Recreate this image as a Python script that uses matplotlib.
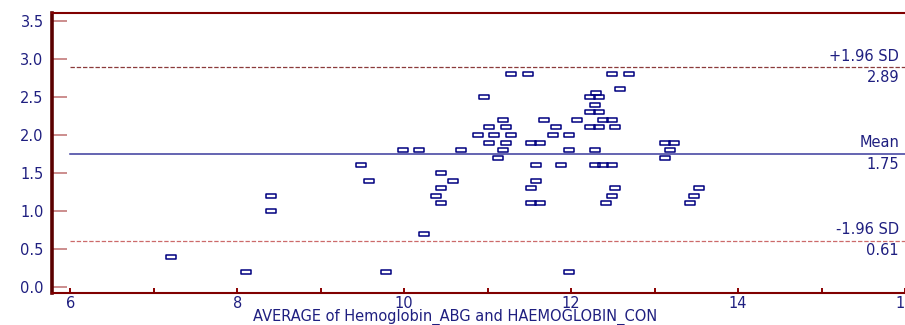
import matplotlib
matplotlib.use("Agg")
import matplotlib.pyplot as plt
import matplotlib.transforms as mtransforms
from matplotlib.path import Path
from matplotlib.ticker import MultipleLocator

# Bland-Altman data: average of the two methods vs difference
avg = [7.2, 8.1, 8.4, 8.4, 9.48, 9.58, 9.78, 9.98, 10.18, 10.24,
       10.38, 10.44, 10.44, 10.44, 10.58, 10.68, 10.88, 10.95, 11.02, 11.02,
       11.08, 11.12, 11.18, 11.18, 11.22, 11.22, 11.28, 11.28, 11.48, 11.52,
       11.52, 11.52, 11.58, 11.58, 11.63, 11.63, 11.68, 11.78, 11.82, 11.88,
       11.98, 11.98, 11.98, 12.07, 12.22, 12.22, 12.22, 12.28, 12.28, 12.28,
       12.30, 12.33, 12.33, 12.33, 12.38, 12.38, 12.42, 12.49, 12.49, 12.49,
       12.49, 12.52, 12.52, 12.58, 12.69, 13.12, 13.12, 13.18, 13.23, 13.43,
       13.47, 13.53]
diff = [0.4, 0.2, 1.2, 1.0, 1.6, 1.4, 0.2, 1.8, 1.8, 0.7,
        1.2, 1.5, 1.3, 1.1, 1.4, 1.8, 2.0, 2.5, 2.1, 1.9,
        2.0, 1.7, 2.2, 1.8, 2.1, 1.9, 2.8, 2.0, 2.8, 1.9,
        1.3, 1.1, 1.6, 1.4, 1.9, 1.1, 2.2, 2.0, 2.1, 1.6,
        2.0, 1.8, 0.2, 2.2, 2.5, 2.3, 2.1, 2.4, 1.8, 1.6,
        2.55, 2.5, 2.3, 2.1, 2.2, 1.6, 1.1, 2.8, 2.2, 1.6,
        1.2, 2.1, 1.3, 2.6, 2.8, 1.9, 1.7, 1.8, 1.9, 1.1,
        1.2, 1.3]

mean_diff = 1.75
upper_loa = 2.89
lower_loa = 0.61

navy = "#1f1f80"
plt.rcParams['font.family'] = ['DejaVu Sans']

fig = plt.figure(figsize=(9.05, 3.25), dpi=100)
ax = fig.add_axes([52 / 905, 32 / 325, 1 - 52 / 905, 280 / 325])

# wide hollow rectangle markers
box = Path([(-1, -0.45), (1, -0.45), (1, 0.45), (-1, 0.45), (-1, -0.45)],
           [Path.MOVETO, Path.LINETO, Path.LINETO, Path.LINETO, Path.CLOSEPOLY])
ax.plot(avg, diff, linestyle='none', marker=box, markersize=7.8,
        markerfacecolor='none', markeredgecolor='#000080', markeredgewidth=1.1)

# mean and limits of agreement
ax.plot([6, 16], [mean_diff, mean_diff], color='#3a3a9c', lw=1.1)
ax.plot([6, 16], [upper_loa, upper_loa], color='#8b3a3a', lw=0.9, dashes=(3.5, 1.5))
ax.plot([6, 16], [lower_loa, lower_loa], color='#cc6a6a', lw=0.9, dashes=(3.5, 1.5))

trans = mtransforms.blended_transform_factory(ax.transAxes, ax.transData)
for lab, val in [('+1.96 SD', upper_loa), ('Mean', mean_diff), ('-1.96 SD', lower_loa)]:
    ax.annotate(lab, xy=(0.993, val), xycoords=trans, xytext=(0, 2.5),
                textcoords='offset points', ha='right', va='bottom',
                fontsize=10.5, color=navy)
    ax.annotate(f'{val:.2f}', xy=(0.993, val), xycoords=trans, xytext=(0, -2),
                textcoords='offset points', ha='right', va='top',
                fontsize=10.5, color=navy)

ax.set_xlim(5.78, 16.0)
ax.set_ylim(-0.08, 3.605)

ax.xaxis.set_major_locator(MultipleLocator(2))
ax.xaxis.set_minor_locator(MultipleLocator(1))
ax.yaxis.set_major_locator(MultipleLocator(0.5))
ax.yaxis.set_major_formatter(matplotlib.ticker.FormatStrFormatter('%.1f'))

ax.tick_params(axis='y', direction='in', length=11, width=1.2, color='#c47a7a',
               pad=6, labelsize=10.5, labelcolor=navy)
ax.tick_params(axis='x', which='both', direction='in', length=3.5, width=1.4,
               color='#8b0000', pad=2, labelsize=10.5, labelcolor=navy)

ax.spines['right'].set_visible(False)
ax.spines['left'].set_color('#5a0000')
ax.spines['left'].set_linewidth(2.6)
ax.spines['top'].set_color('#800000')
ax.spines['top'].set_linewidth(1.5)
ax.spines['bottom'].set_color('#800000')
ax.spines['bottom'].set_linewidth(1.5)

ax.set_xlabel('AVERAGE of Hemoglobin_ABG and HAEMOGLOBIN_CON', fontsize=10.5,
              color=navy)
ax.xaxis.set_label_coords(0.4725, -0.057)

fig.savefig('out.png', dpi=100)
